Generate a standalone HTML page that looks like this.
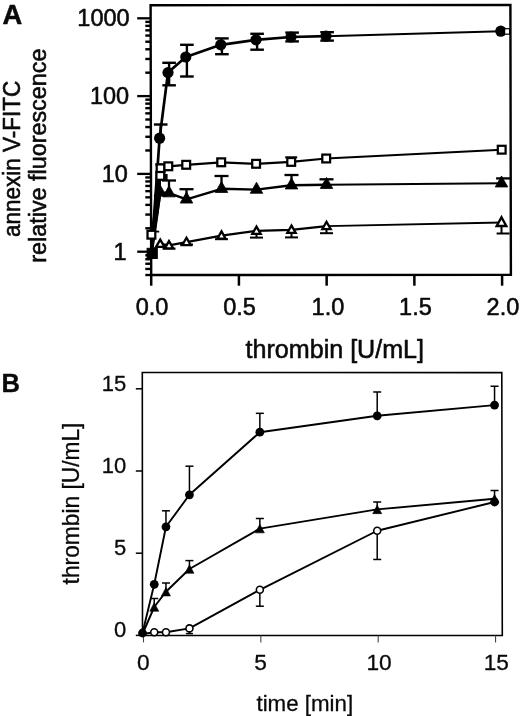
<!DOCTYPE html>
<html><head><meta charset="utf-8"><title>Figure</title>
<style>
html,body{margin:0;padding:0;background:#fff;}
body{width:520px;height:716px;overflow:hidden;}
svg{display:block;will-change:transform;}
svg text{font-family:"Liberation Sans",sans-serif;fill:#0a0a0a;stroke:#0a0a0a;stroke-width:0.55px;stroke-linejoin:round;}
svg .b text{stroke-width:0.3px;}
</style></head><body>
<svg width="520" height="716" viewBox="0 0 520 716">
<rect x="0" y="0" width="520" height="716" fill="#fff"/>
<polygon points="150.6,5.2 510.4,5.0 510.9,274.9 151.2,275.0" fill="none" stroke="#000" stroke-width="2.4" stroke-linejoin="miter"/>
<line x1="145.3" y1="275.00" x2="151.20" y2="275.00" stroke="#000" stroke-width="2.4"/>
<line x1="145.3" y1="268.96" x2="151.19" y2="268.96" stroke="#000" stroke-width="2.4"/>
<line x1="145.3" y1="263.75" x2="151.17" y2="263.75" stroke="#000" stroke-width="2.4"/>
<line x1="145.3" y1="259.24" x2="151.16" y2="259.24" stroke="#000" stroke-width="2.4"/>
<line x1="145.3" y1="255.26" x2="151.16" y2="255.26" stroke="#000" stroke-width="2.4"/>
<line x1="137.2" y1="251.70" x2="151.15" y2="251.70" stroke="#000" stroke-width="2.3"/>
<line x1="145.3" y1="228.28" x2="151.10" y2="228.28" stroke="#000" stroke-width="2.4"/>
<line x1="145.3" y1="214.58" x2="151.07" y2="214.58" stroke="#000" stroke-width="2.4"/>
<line x1="145.3" y1="204.86" x2="151.04" y2="204.86" stroke="#000" stroke-width="2.4"/>
<line x1="145.3" y1="197.32" x2="151.03" y2="197.32" stroke="#000" stroke-width="2.4"/>
<line x1="145.3" y1="191.16" x2="151.01" y2="191.16" stroke="#000" stroke-width="2.4"/>
<line x1="145.3" y1="185.95" x2="151.00" y2="185.95" stroke="#000" stroke-width="2.4"/>
<line x1="145.3" y1="181.44" x2="150.99" y2="181.44" stroke="#000" stroke-width="2.4"/>
<line x1="145.3" y1="177.46" x2="150.98" y2="177.46" stroke="#000" stroke-width="2.4"/>
<line x1="137.2" y1="173.90" x2="150.98" y2="173.90" stroke="#000" stroke-width="2.3"/>
<line x1="145.3" y1="150.48" x2="150.92" y2="150.48" stroke="#000" stroke-width="2.4"/>
<line x1="145.3" y1="136.78" x2="150.89" y2="136.78" stroke="#000" stroke-width="2.4"/>
<line x1="145.3" y1="127.06" x2="150.87" y2="127.06" stroke="#000" stroke-width="2.4"/>
<line x1="145.3" y1="119.52" x2="150.85" y2="119.52" stroke="#000" stroke-width="2.4"/>
<line x1="145.3" y1="113.36" x2="150.84" y2="113.36" stroke="#000" stroke-width="2.4"/>
<line x1="145.3" y1="108.15" x2="150.83" y2="108.15" stroke="#000" stroke-width="2.4"/>
<line x1="145.3" y1="103.64" x2="150.82" y2="103.64" stroke="#000" stroke-width="2.4"/>
<line x1="145.3" y1="99.66" x2="150.81" y2="99.66" stroke="#000" stroke-width="2.4"/>
<line x1="137.2" y1="96.10" x2="150.80" y2="96.10" stroke="#000" stroke-width="2.3"/>
<line x1="145.3" y1="72.68" x2="150.75" y2="72.68" stroke="#000" stroke-width="2.4"/>
<line x1="145.3" y1="58.98" x2="150.72" y2="58.98" stroke="#000" stroke-width="2.4"/>
<line x1="145.3" y1="49.26" x2="150.70" y2="49.26" stroke="#000" stroke-width="2.4"/>
<line x1="145.3" y1="41.72" x2="150.68" y2="41.72" stroke="#000" stroke-width="2.4"/>
<line x1="145.3" y1="35.56" x2="150.67" y2="35.56" stroke="#000" stroke-width="2.4"/>
<line x1="145.3" y1="30.35" x2="150.66" y2="30.35" stroke="#000" stroke-width="2.4"/>
<line x1="145.3" y1="25.84" x2="150.65" y2="25.84" stroke="#000" stroke-width="2.4"/>
<line x1="145.3" y1="21.86" x2="150.64" y2="21.86" stroke="#000" stroke-width="2.4"/>
<line x1="137.2" y1="18.30" x2="150.63" y2="18.30" stroke="#000" stroke-width="2.3"/>
<line x1="151.20" y1="274.95" x2="151.20" y2="285.7" stroke="#000" stroke-width="2.5"/>
<line x1="238.92" y1="274.95" x2="238.92" y2="285.7" stroke="#000" stroke-width="2.5"/>
<line x1="326.65" y1="274.95" x2="326.65" y2="285.7" stroke="#000" stroke-width="2.5"/>
<line x1="414.37" y1="274.95" x2="414.37" y2="285.7" stroke="#000" stroke-width="2.5"/>
<line x1="502.10" y1="274.95" x2="502.10" y2="285.7" stroke="#000" stroke-width="2.5"/>
<polyline fill="none" stroke="#000" stroke-width="2.2" stroke-linejoin="round" points="151.50,252.00 160.25,243.90 169.00,245.40 186.50,242.10 221.50,235.70 256.50,230.90 291.50,229.80 326.50,226.10"/>
<polyline fill="none" stroke="#000" stroke-width="1.85" stroke-linejoin="round" points="326.50,226.10 501.50,222.50"/>
<polyline fill="none" stroke="#000" stroke-width="2.4" stroke-linejoin="round" points="151.50,252.00 160.25,192.50 169.00,193.20 186.50,199.40 221.50,188.80 256.50,189.60 291.50,185.30 326.50,184.80"/>
<polyline fill="none" stroke="#000" stroke-width="2.1" stroke-linejoin="round" points="326.50,184.80 501.50,183.30"/>
<polyline fill="none" stroke="#000" stroke-width="2.2" stroke-linejoin="round" points="151.40,234.70 160.30,175.90 160.60,168.30 168.30,166.30 186.20,164.80 221.20,162.30 256.10,163.80 291.20,161.90 326.20,158.50"/>
<polyline fill="none" stroke="#000" stroke-width="1.9" stroke-linejoin="round" points="326.20,158.50 501.70,149.70"/>
<polyline fill="none" stroke="#000" stroke-width="2.7" stroke-linejoin="round" points="151.50,252.00 159.60,138.20 168.00,72.60 185.80,57.00 220.80,44.80 256.00,39.80 291.00,37.00 326.00,36.20"/>
<polyline fill="none" stroke="#000" stroke-width="2.1" stroke-linejoin="round" points="326.00,36.20 500.80,31.20"/>
<polygon points="151.2,253 153.0,253 161.0,196.5 161.0,178 157.2,170 155.0,190" fill="#000"/>
<line x1="169.00" y1="245.40" x2="169.00" y2="248.60" stroke="#000" stroke-width="2.0"/>
<line x1="162.50" y1="248.6" x2="175.50" y2="248.6" stroke="#000" stroke-width="2.0"/>
<line x1="186.50" y1="242.10" x2="186.50" y2="244.60" stroke="#000" stroke-width="2.0"/>
<line x1="180.00" y1="244.6" x2="193.00" y2="244.6" stroke="#000" stroke-width="2.0"/>
<line x1="221.50" y1="235.70" x2="221.50" y2="239.20" stroke="#000" stroke-width="2.0"/>
<line x1="215.00" y1="239.2" x2="228.00" y2="239.2" stroke="#000" stroke-width="2.0"/>
<line x1="256.50" y1="230.90" x2="256.50" y2="237.60" stroke="#000" stroke-width="2.0"/>
<line x1="250.00" y1="237.6" x2="263.00" y2="237.6" stroke="#000" stroke-width="2.0"/>
<line x1="291.50" y1="229.80" x2="291.50" y2="237.40" stroke="#000" stroke-width="2.0"/>
<line x1="285.00" y1="237.4" x2="298.00" y2="237.4" stroke="#000" stroke-width="2.0"/>
<line x1="326.50" y1="226.10" x2="326.50" y2="233.20" stroke="#000" stroke-width="2.0"/>
<line x1="320.00" y1="233.2" x2="333.00" y2="233.2" stroke="#000" stroke-width="2.0"/>
<line x1="501.50" y1="222.50" x2="501.50" y2="233.50" stroke="#000" stroke-width="2.0"/>
<line x1="496.60" y1="233.5" x2="509.60" y2="233.5" stroke="#000" stroke-width="2.0"/>
<line x1="169.00" y1="193.20" x2="169.00" y2="180.50" stroke="#000" stroke-width="2.3"/>
<line x1="162.00" y1="180.5" x2="176.00" y2="180.5" stroke="#000" stroke-width="2.3"/>
<line x1="186.50" y1="199.40" x2="186.50" y2="189.20" stroke="#000" stroke-width="2.3"/>
<line x1="179.50" y1="189.2" x2="193.50" y2="189.2" stroke="#000" stroke-width="2.3"/>
<line x1="221.50" y1="188.80" x2="221.50" y2="176.00" stroke="#000" stroke-width="2.3"/>
<line x1="214.50" y1="176.0" x2="228.50" y2="176.0" stroke="#000" stroke-width="2.3"/>
<line x1="291.50" y1="185.30" x2="291.50" y2="175.00" stroke="#000" stroke-width="2.3"/>
<line x1="284.50" y1="175.0" x2="298.50" y2="175.0" stroke="#000" stroke-width="2.3"/>
<line x1="326.50" y1="184.80" x2="326.50" y2="179.30" stroke="#000" stroke-width="2.3"/>
<line x1="319.50" y1="179.3" x2="333.50" y2="179.3" stroke="#000" stroke-width="2.3"/>
<line x1="501.50" y1="183.30" x2="501.50" y2="178.40" stroke="#000" stroke-width="2.3"/>
<line x1="496.10" y1="178.4" x2="510.10" y2="178.4" stroke="#000" stroke-width="2.3"/>
<rect x="164.6" y="174.0" width="3.0" height="6.5" fill="#000"/>
<line x1="159.30" y1="170.00" x2="159.30" y2="164.50" stroke="#000" stroke-width="2.0"/><line x1="155.30" y1="164.50" x2="163.30" y2="164.50" stroke="#000" stroke-width="2.0"/>
<line x1="291.20" y1="161.90" x2="291.20" y2="157.30" stroke="#000" stroke-width="2.0"/><line x1="285.20" y1="157.30" x2="297.20" y2="157.30" stroke="#000" stroke-width="2.0"/>
<line x1="147.5" y1="231.6" x2="159.2" y2="231.6" stroke="#000" stroke-width="1.8"/>
<line x1="160.70" y1="138.20" x2="160.70" y2="124.50" stroke="#000" stroke-width="2.4"/><line x1="153.90" y1="124.50" x2="167.50" y2="124.50" stroke="#000" stroke-width="2.4"/>
<line x1="169.10" y1="62.80" x2="169.10" y2="85.30" stroke="#000" stroke-width="2.4"/><line x1="162.30" y1="62.80" x2="175.90" y2="62.80" stroke="#000" stroke-width="2.4"/><line x1="162.30" y1="85.30" x2="175.90" y2="85.30" stroke="#000" stroke-width="2.4"/>
<line x1="186.90" y1="44.80" x2="186.90" y2="76.50" stroke="#000" stroke-width="2.4"/><line x1="180.10" y1="44.80" x2="193.70" y2="44.80" stroke="#000" stroke-width="2.4"/><line x1="180.10" y1="76.50" x2="193.70" y2="76.50" stroke="#000" stroke-width="2.4"/>
<line x1="221.90" y1="38.40" x2="221.90" y2="54.20" stroke="#000" stroke-width="2.4"/><line x1="215.10" y1="38.40" x2="228.70" y2="38.40" stroke="#000" stroke-width="2.4"/><line x1="215.10" y1="54.20" x2="228.70" y2="54.20" stroke="#000" stroke-width="2.4"/>
<line x1="257.10" y1="33.80" x2="257.10" y2="49.70" stroke="#000" stroke-width="2.4"/><line x1="250.30" y1="33.80" x2="263.90" y2="33.80" stroke="#000" stroke-width="2.4"/><line x1="250.30" y1="49.70" x2="263.90" y2="49.70" stroke="#000" stroke-width="2.4"/>
<line x1="292.10" y1="32.60" x2="292.10" y2="41.40" stroke="#000" stroke-width="2.4"/><line x1="285.30" y1="32.60" x2="298.90" y2="32.60" stroke="#000" stroke-width="2.4"/><line x1="285.30" y1="41.40" x2="298.90" y2="41.40" stroke="#000" stroke-width="2.4"/>
<line x1="327.10" y1="32.20" x2="327.10" y2="40.60" stroke="#000" stroke-width="2.4"/><line x1="320.30" y1="32.20" x2="333.90" y2="32.20" stroke="#000" stroke-width="2.4"/><line x1="320.30" y1="40.60" x2="333.90" y2="40.60" stroke="#000" stroke-width="2.4"/>
<polygon points="160.25,239.57 164.45,246.97 156.05,246.97" fill="#fff" stroke="#000" stroke-width="2.3" stroke-linejoin="miter"/>
<polygon points="169.00,241.07 173.20,248.47 164.80,248.47" fill="#fff" stroke="#000" stroke-width="2.3" stroke-linejoin="miter"/>
<polygon points="186.50,237.77 190.70,245.17 182.30,245.17" fill="#fff" stroke="#000" stroke-width="2.3" stroke-linejoin="miter"/>
<polygon points="221.50,231.37 225.70,238.77 217.30,238.77" fill="#fff" stroke="#000" stroke-width="2.3" stroke-linejoin="miter"/>
<polygon points="256.50,226.57 260.70,233.97 252.30,233.97" fill="#fff" stroke="#000" stroke-width="2.3" stroke-linejoin="miter"/>
<polygon points="291.50,225.47 295.70,232.87 287.30,232.87" fill="#fff" stroke="#000" stroke-width="2.3" stroke-linejoin="miter"/>
<polygon points="326.50,221.77 330.70,229.17 322.30,229.17" fill="#fff" stroke="#000" stroke-width="2.3" stroke-linejoin="miter"/>
<polygon points="501.50,217.23 506.30,226.03 496.70,226.03" fill="#fff" stroke="#000" stroke-width="2.4" stroke-linejoin="miter"/>
<polygon points="160.25,185.17 166.50,196.17 154.00,196.17" fill="#000" stroke="#000" stroke-width="0.8" stroke-linejoin="miter"/>
<polygon points="169.00,185.87 175.25,196.87 162.75,196.87" fill="#000" stroke="#000" stroke-width="0.8" stroke-linejoin="miter"/>
<polygon points="186.50,192.07 192.75,203.07 180.25,203.07" fill="#000" stroke="#000" stroke-width="0.8" stroke-linejoin="miter"/>
<polygon points="221.50,181.47 227.75,192.47 215.25,192.47" fill="#000" stroke="#000" stroke-width="0.8" stroke-linejoin="miter"/>
<polygon points="256.50,182.27 262.75,193.27 250.25,193.27" fill="#000" stroke="#000" stroke-width="0.8" stroke-linejoin="miter"/>
<polygon points="291.50,177.97 297.75,188.97 285.25,188.97" fill="#000" stroke="#000" stroke-width="0.8" stroke-linejoin="miter"/>
<polygon points="326.50,177.47 332.75,188.47 320.25,188.47" fill="#000" stroke="#000" stroke-width="0.8" stroke-linejoin="miter"/>
<polygon points="501.50,175.97 507.75,186.97 495.25,186.97" fill="#000" stroke="#000" stroke-width="0.8" stroke-linejoin="miter"/>
<rect x="156.70" y="164.40" width="7.8" height="7.8" fill="#fff" stroke="#000" stroke-width="2.25"/>
<rect x="156.40" y="172.00" width="7.8" height="7.8" fill="#fff" stroke="#000" stroke-width="2.25"/>
<rect x="147.50" y="230.80" width="7.8" height="7.8" fill="#fff" stroke="#000" stroke-width="2.25"/>
<rect x="164.40" y="162.40" width="7.8" height="7.8" fill="#fff" stroke="#000" stroke-width="2.25"/>
<rect x="182.30" y="160.90" width="7.8" height="7.8" fill="#fff" stroke="#000" stroke-width="2.25"/>
<rect x="217.30" y="158.40" width="7.8" height="7.8" fill="#fff" stroke="#000" stroke-width="2.25"/>
<rect x="252.20" y="159.90" width="7.8" height="7.8" fill="#fff" stroke="#000" stroke-width="2.25"/>
<rect x="287.30" y="158.00" width="7.8" height="7.8" fill="#fff" stroke="#000" stroke-width="2.25"/>
<rect x="322.30" y="154.60" width="7.8" height="7.8" fill="#fff" stroke="#000" stroke-width="2.25"/>
<rect x="497.80" y="145.80" width="7.8" height="7.8" fill="#fff" stroke="#000" stroke-width="2.25"/>
<circle cx="159.60" cy="138.20" r="5.6" fill="#000"/>
<circle cx="168.00" cy="72.60" r="5.6" fill="#000"/>
<circle cx="185.80" cy="57.00" r="5.6" fill="#000"/>
<circle cx="220.80" cy="44.80" r="5.6" fill="#000"/>
<circle cx="256.00" cy="39.80" r="5.6" fill="#000"/>
<circle cx="291.00" cy="37.00" r="5.6" fill="#000"/>
<circle cx="326.00" cy="36.20" r="5.6" fill="#000"/>
<circle cx="500.80" cy="31.20" r="5.6" fill="#000"/>
<rect x="504.6" y="28.7" width="5" height="5.5" fill="#fff" stroke="#000" stroke-width="1.2"/>
<rect x="147.10" y="248.30" width="10.2" height="10.2" fill="#000" stroke="#000" stroke-width="1"/>
<text x="2.6" y="23.9" font-size="27.3" text-anchor="start" font-weight="bold" >A</text>
<text x="129.6" y="26.100000000000012" font-size="23.5" text-anchor="end" font-weight="normal" >1000</text>
<text x="129.1" y="103.89999999999999" font-size="23.5" text-anchor="end" font-weight="normal" >100</text>
<text x="127.89999999999999" y="181.7" font-size="23.5" text-anchor="end" font-weight="normal" >10</text>
<text x="126.5" y="259.5" font-size="23.5" text-anchor="end" font-weight="normal" >1</text>
<text x="152.0" y="314.5" font-size="23.5" text-anchor="middle" font-weight="normal" >0.0</text>
<text x="239.5" y="314.5" font-size="23.5" text-anchor="middle" font-weight="normal" >0.5</text>
<text x="327.9" y="314.5" font-size="23.5" text-anchor="middle" font-weight="normal" >1.0</text>
<text x="415.4" y="314.5" font-size="23.5" text-anchor="middle" font-weight="normal" >1.5</text>
<text x="502.9" y="314.5" font-size="23.5" text-anchor="middle" font-weight="normal" >2.0</text>
<text x="334.8" y="358.0" font-size="25.1" text-anchor="middle" font-weight="normal" >thrombin [U/mL]</text>
<text transform="translate(19.6,158.8) rotate(-90) scale(1,1.1)" font-size="22.5" text-anchor="middle">annexin V-FITC</text>
<text transform="translate(45.5,155.65) rotate(-90) scale(1,1.05)" font-size="23.35" text-anchor="middle">relative fluorescence</text>
<g class="b">
<polygon points="142.3,372.5 501.8,372.6 502.3,635.5 142.5,635.4" fill="none" stroke="#000" stroke-width="1.6" stroke-linejoin="miter"/>
<line x1="135.8" y1="635.40" x2="142.4" y2="635.40" stroke="#000" stroke-width="1.5"/>
<line x1="135.8" y1="553.20" x2="142.4" y2="553.20" stroke="#000" stroke-width="1.5"/>
<line x1="135.8" y1="471.00" x2="142.4" y2="471.00" stroke="#000" stroke-width="1.5"/>
<line x1="135.8" y1="388.80" x2="142.4" y2="388.80" stroke="#000" stroke-width="1.5"/>
<line x1="143.50" y1="635.45" x2="143.50" y2="642.4" stroke="#444" stroke-width="1.1"/>
<line x1="260.85" y1="635.45" x2="260.85" y2="642.4" stroke="#444" stroke-width="1.1"/>
<line x1="378.20" y1="635.45" x2="378.20" y2="642.4" stroke="#444" stroke-width="1.1"/>
<line x1="495.55" y1="635.45" x2="495.55" y2="642.4" stroke="#444" stroke-width="1.1"/>
<polyline fill="none" stroke="#000" stroke-width="1.9" stroke-linejoin="round" points="142.50,634.00 154.24,632.30 165.97,632.30 189.44,628.40 259.85,589.80 377.20,530.73 494.55,502.00"/>
<line x1="189.44" y1="628.60" x2="189.44" y2="633.60" stroke="#000" stroke-width="1.5"/><line x1="185.94" y1="633.60" x2="192.94" y2="633.60" stroke="#000" stroke-width="1.5"/>
<line x1="259.85" y1="589.80" x2="259.85" y2="606.20" stroke="#000" stroke-width="1.5"/><line x1="255.85" y1="606.20" x2="263.85" y2="606.20" stroke="#000" stroke-width="1.5"/>
<line x1="377.20" y1="530.73" x2="377.20" y2="559.47" stroke="#000" stroke-width="1.5"/><line x1="373.20" y1="559.47" x2="381.20" y2="559.47" stroke="#000" stroke-width="1.5"/>
<polyline fill="none" stroke="#000" stroke-width="1.9" stroke-linejoin="round" points="142.50,634.00 154.24,607.00 165.97,591.70 189.44,569.00 259.85,528.60 377.20,509.39 494.55,498.71"/>
<line x1="154.24" y1="607.00" x2="154.24" y2="598.50" stroke="#000" stroke-width="1.5"/><line x1="150.24" y1="598.50" x2="158.24" y2="598.50" stroke="#000" stroke-width="1.5"/>
<line x1="165.97" y1="591.70" x2="165.97" y2="583.00" stroke="#000" stroke-width="1.5"/><line x1="161.97" y1="583.00" x2="169.97" y2="583.00" stroke="#000" stroke-width="1.5"/>
<line x1="189.44" y1="569.00" x2="189.44" y2="560.60" stroke="#000" stroke-width="1.5"/><line x1="185.44" y1="560.60" x2="193.44" y2="560.60" stroke="#000" stroke-width="1.5"/>
<line x1="259.85" y1="528.60" x2="259.85" y2="518.50" stroke="#000" stroke-width="1.5"/><line x1="255.85" y1="518.50" x2="263.85" y2="518.50" stroke="#000" stroke-width="1.5"/>
<line x1="377.20" y1="509.39" x2="377.20" y2="502.00" stroke="#000" stroke-width="1.5"/><line x1="373.20" y1="502.00" x2="381.20" y2="502.00" stroke="#000" stroke-width="1.5"/>
<line x1="494.55" y1="498.71" x2="494.55" y2="490.50" stroke="#000" stroke-width="1.5"/><line x1="490.55" y1="490.50" x2="498.55" y2="490.50" stroke="#000" stroke-width="1.5"/>
<polyline fill="none" stroke="#000" stroke-width="1.9" stroke-linejoin="round" points="142.50,633.00 154.24,584.30 165.97,526.80 189.44,494.80 259.85,432.21 377.20,415.79 494.55,405.12"/>
<line x1="165.97" y1="526.80" x2="165.97" y2="510.80" stroke="#000" stroke-width="1.5"/><line x1="161.97" y1="510.80" x2="169.97" y2="510.80" stroke="#000" stroke-width="1.5"/>
<line x1="189.44" y1="494.80" x2="189.44" y2="466.20" stroke="#000" stroke-width="1.5"/><line x1="185.44" y1="466.20" x2="193.44" y2="466.20" stroke="#000" stroke-width="1.5"/>
<line x1="259.85" y1="432.21" x2="259.85" y2="413.33" stroke="#000" stroke-width="1.5"/><line x1="255.85" y1="413.33" x2="263.85" y2="413.33" stroke="#000" stroke-width="1.5"/>
<line x1="377.20" y1="415.79" x2="377.20" y2="391.98" stroke="#000" stroke-width="1.5"/><line x1="373.20" y1="391.98" x2="381.20" y2="391.98" stroke="#000" stroke-width="1.5"/>
<line x1="494.55" y1="405.12" x2="494.55" y2="386.24" stroke="#000" stroke-width="1.5"/><line x1="490.55" y1="386.24" x2="498.55" y2="386.24" stroke="#000" stroke-width="1.5"/>
<circle cx="154.24" cy="632.30" r="3.5" fill="#fff" stroke="#000" stroke-width="1.6"/>
<circle cx="165.97" cy="632.30" r="3.5" fill="#fff" stroke="#000" stroke-width="1.6"/>
<circle cx="189.44" cy="628.40" r="3.5" fill="#fff" stroke="#000" stroke-width="1.6"/>
<circle cx="259.85" cy="589.80" r="3.5" fill="#fff" stroke="#000" stroke-width="1.6"/>
<circle cx="377.20" cy="530.73" r="3.5" fill="#fff" stroke="#000" stroke-width="1.6"/>
<polygon points="154.24,602.75 158.74,611.25 149.74,611.25" fill="#000" stroke="#000" stroke-width="0.6" stroke-linejoin="miter"/>
<polygon points="165.97,587.45 170.47,595.95 161.47,595.95" fill="#000" stroke="#000" stroke-width="0.6" stroke-linejoin="miter"/>
<polygon points="189.44,564.75 193.94,573.25 184.94,573.25" fill="#000" stroke="#000" stroke-width="0.6" stroke-linejoin="miter"/>
<polygon points="259.85,524.35 264.35,532.85 255.35,532.85" fill="#000" stroke="#000" stroke-width="0.6" stroke-linejoin="miter"/>
<polygon points="377.20,505.14 381.70,513.64 372.70,513.64" fill="#000" stroke="#000" stroke-width="0.6" stroke-linejoin="miter"/>
<polygon points="494.55,494.46 499.05,502.96 490.05,502.96" fill="#000" stroke="#000" stroke-width="0.6" stroke-linejoin="miter"/>
<circle cx="142.50" cy="633.00" r="4.4" fill="#000"/>
<circle cx="154.24" cy="584.30" r="4.4" fill="#000"/>
<circle cx="165.97" cy="526.80" r="4.4" fill="#000"/>
<circle cx="189.44" cy="494.80" r="4.4" fill="#000"/>
<circle cx="259.85" cy="432.21" r="4.4" fill="#000"/>
<circle cx="377.20" cy="415.79" r="4.4" fill="#000"/>
<circle cx="494.55" cy="405.12" r="4.4" fill="#000"/>
<circle cx="494.55" cy="502.00" r="4.4" fill="#000"/>
<text x="1.6" y="392.4" font-size="25.6" text-anchor="start" font-weight="bold" >B</text>
<text x="126.2" y="390.69999999999993" font-size="22" text-anchor="end" font-weight="normal" >15</text>
<text x="126.2" y="472.9" font-size="22" text-anchor="end" font-weight="normal" >10</text>
<text x="126.2" y="555.0999999999999" font-size="22" text-anchor="end" font-weight="normal" >5</text>
<text x="126.2" y="637.3" font-size="22" text-anchor="end" font-weight="normal" >0</text>
<text x="143.3" y="669.7" font-size="22.7" text-anchor="middle" font-weight="normal" >0</text>
<text x="260.65000000000003" y="669.7" font-size="22.7" text-anchor="middle" font-weight="normal" >5</text>
<text x="379.0" y="669.7" font-size="22.7" text-anchor="middle" font-weight="normal" >10</text>
<text x="496.34999999999997" y="669.7" font-size="22.7" text-anchor="middle" font-weight="normal" >15</text>
<text x="304.8" y="710.5" font-size="22.3" text-anchor="middle" font-weight="normal" >time [min]</text>
<text transform="translate(78.7,503.5) rotate(-90) scale(1,1.06)" font-size="22.75" text-anchor="middle">thrombin [U/mL]</text>
</g>
</svg>
</body></html>
